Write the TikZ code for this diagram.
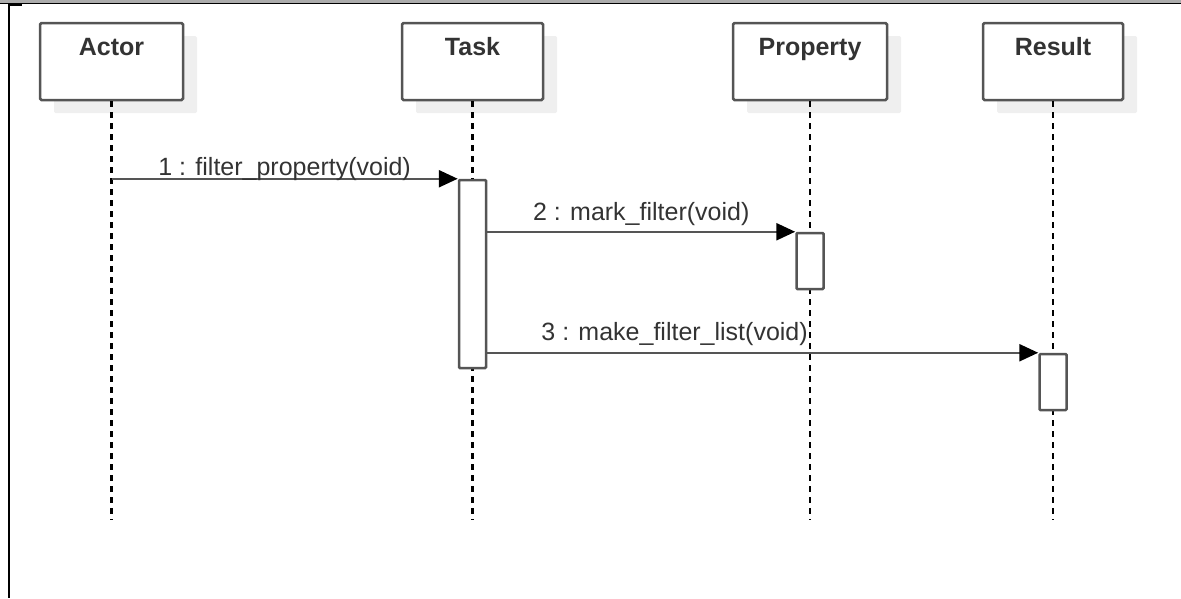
\documentclass[tikz,border=0pt]{standalone}
\usepackage{fontspec}
\setmainfont{Liberation Sans}
\usetikzlibrary{arrows.meta,shadows}
\definecolor{boxgray}{HTML}{555555}
\definecolor{txtgray}{HTML}{333333}
\definecolor{shadowgray}{HTML}{EFEFEF}

\begin{document}
\begin{tikzpicture}[x=1pt,y=-1pt,
  font=\fontsize{25}{30}\selectfont,
  obj/.style={draw=boxgray, line width=2.5pt, fill=white, rounded corners=1.5pt, minimum height=77pt,
    drop shadow={shadow xshift=14pt, shadow yshift=-13pt, opacity=1, fill=shadowgray, draw=none}},
  act/.style={draw=boxgray, line width=2.5pt, fill=white, minimum width=27pt, rounded corners=1pt},
  head/.style={font=\fontsize{25}{30}\selectfont\bfseries, text=txtgray, anchor=base},
  lifeline/.style={line width=2.5pt, dash pattern=on 6pt off 5pt},
  msg/.style={draw=boxgray, line width=2.5pt, -{Triangle[length=19pt,width=17pt,color=black]}},
  msglabel/.style={anchor=base, text=txtgray, inner sep=0pt}]
\useasboundingbox (0,0) rectangle (1181,598);
\fill[gray!65] (0,0) rectangle (1181,3);
\fill[black] (0,3) rectangle (1181,4);
\fill[black] (8,3) rectangle (10,598);
\fill[black] (10,4) rectangle (22,5.5);
\node[obj, minimum width=143pt] (actor) at (111.5,61.5) {};
\node[head] (actor-t) at ([yshift=-34pt]actor.north) {Actor};
\node[obj, minimum width=141pt] (task) at (472.5,61.5) {};
\node[head] (task-t) at ([yshift=-34pt]task.north) {Task};
\node[obj, minimum width=154pt] (property) at (810,61.5) {};
\node[head] (property-t) at ([yshift=-34pt]property.north) {Property};
\node[obj, minimum width=140pt] (result) at (1053,61.5) {};
\node[head] (result-t) at ([yshift=-34pt]result.north) {Result};
\coordinate (bottom) at (0,520);
\foreach \n in {actor,task,property,result}
  \draw[lifeline] (\n.south) -- (\n.south |- bottom);
\node[act, minimum height=188pt] (task-act) at (472.5,274) {};
\node[act, minimum height=56pt] (property-act) at (810,261) {};
\node[act, minimum height=56pt] (result-act) at (1053,382) {};
\draw[msg] (actor |- task-act.north) -- (task-act.north west)
  node[msglabel, midway, yshift=3pt] {1 : filter\_property(void)};
\draw[msg] (task-act.east |- property-act.north) -- (property-act.north west)
  node[msglabel, midway, yshift=11pt] {2 : mark\_filter(void)};
\draw[msg] (task-act.east |- result-act.north) -- (result-act.north west)
  node[msglabel, pos=.34, yshift=12pt] {3 : make\_filter\_list(void)};
\end{tikzpicture}
\end{document}
